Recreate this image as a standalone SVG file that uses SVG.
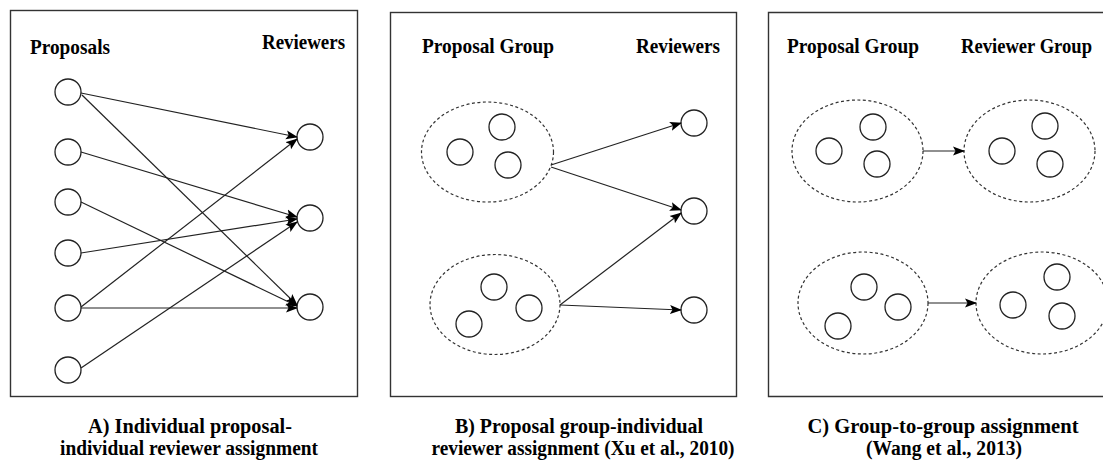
<svg xmlns="http://www.w3.org/2000/svg" width="1103" height="464" viewBox="0 0 1103 464">
<style>
.frame{fill:none;stroke:#333;stroke-width:1.4}
.c{fill:#fff;stroke:#222;stroke-width:1.3}
.g{fill:none;stroke:#333;stroke-width:1.2;stroke-dasharray:3 2.5}
.e{fill:none;stroke:#222;stroke-width:1.2;marker-end:url(#ah)}
.h{font-family:"Liberation Serif","Times New Roman",serif;font-weight:bold;font-size:21px;fill:#000}
.cap{font-family:"Liberation Serif","Times New Roman",serif;font-weight:bold;font-size:20px;fill:#000;text-anchor:middle}
</style>
<defs>
<marker id="ah" markerWidth="12" markerHeight="10" refX="11" refY="5" orient="auto" markerUnits="userSpaceOnUse">
<path d="M0,0.5 L12,5 L0,9.5 L2.5,5 Z" fill="#000"/>
</marker>
</defs>
<rect width="1103" height="464" fill="#fff"/>

<g id="panelA">
<rect class="frame" x="10.5" y="10.5" width="347" height="386"/>
<text class="h" x="30" y="54" textLength="80" lengthAdjust="spacingAndGlyphs">Proposals</text>
<text class="h" x="262" y="49" textLength="83" lengthAdjust="spacingAndGlyphs">Reviewers</text>
</g>
<g id="A-p1"><circle class="c" cx="68" cy="92" r="13"/></g>
<g id="A-p2"><circle class="c" cx="68" cy="152" r="13"/></g>
<g id="A-p3"><circle class="c" cx="68" cy="202" r="13"/></g>
<g id="A-p4"><circle class="c" cx="68" cy="253" r="13"/></g>
<g id="A-p5"><circle class="c" cx="68" cy="308" r="13"/></g>
<g id="A-p6"><circle class="c" cx="68" cy="370" r="13"/></g>
<g id="A-r1"><circle class="c" cx="310" cy="137" r="13"/></g>
<g id="A-r2"><circle class="c" cx="310" cy="218" r="13"/></g>
<g id="A-r3"><circle class="c" cx="310" cy="307" r="13"/></g>

<g id="panelB">
<rect class="frame" x="390.5" y="12.5" width="346" height="384"/>
<text class="h" x="422" y="53" textLength="132" lengthAdjust="spacingAndGlyphs">Proposal Group</text>
<text class="h" x="636" y="53" textLength="84" lengthAdjust="spacingAndGlyphs">Reviewers</text>
</g>
<g id="B-g1">
<ellipse class="g" cx="487.5" cy="152" rx="66" ry="50"/>
<circle class="c" cx="460" cy="152" r="13"/>
<circle class="c" cx="502" cy="127" r="13"/>
<circle class="c" cx="508" cy="165" r="13"/>
</g>
<g id="B-g2">
<ellipse class="g" cx="495" cy="304.5" rx="65" ry="50"/>
<circle class="c" cx="469" cy="324" r="13"/>
<circle class="c" cx="494" cy="287" r="13"/>
<circle class="c" cx="529" cy="308" r="13"/>
</g>
<g id="B-r1"><circle class="c" cx="694" cy="123" r="13"/></g>
<g id="B-r2"><circle class="c" cx="694" cy="211" r="13"/></g>
<g id="B-r3"><circle class="c" cx="694" cy="310" r="13"/></g>

<g id="panelC">
<path class="frame" d="M1103,12.5 H768.5 V396.5 H1103"/>
<text class="h" x="961" y="53" font-size="19.5" textLength="131" lengthAdjust="spacingAndGlyphs">Reviewer Group</text>
<text class="h" x="787" y="53" textLength="132" lengthAdjust="spacingAndGlyphs">Proposal Group</text>
</g>
<g id="C-pg1">
<ellipse class="g" cx="857.5" cy="151" rx="65.5" ry="51"/>
<circle class="c" cx="829" cy="151" r="13"/>
<circle class="c" cx="873" cy="127" r="13"/>
<circle class="c" cx="877" cy="164" r="13"/>
</g>
<g id="C-rg1">
<ellipse class="g" cx="1029.5" cy="151" rx="65.5" ry="51"/>
<circle class="c" cx="1002" cy="151" r="13"/>
<circle class="c" cx="1045" cy="126" r="13"/>
<circle class="c" cx="1050" cy="164" r="13"/>
</g>
<g id="C-pg2">
<ellipse class="g" cx="863" cy="303" rx="65" ry="51"/>
<circle class="c" cx="838" cy="326" r="13"/>
<circle class="c" cx="864" cy="287" r="13"/>
<circle class="c" cx="898" cy="307" r="13"/>
</g>
<g id="C-rg2">
<ellipse class="g" cx="1042" cy="303" rx="66" ry="51"/>
<circle class="c" cx="1013" cy="305" r="13"/>
<circle class="c" cx="1057" cy="277" r="13"/>
<circle class="c" cx="1062" cy="316" r="13"/>
</g>

<g id="connectors">
<line class="e" x1="81" y1="93" x2="297" y2="137"/>
<line class="e" x1="82" y1="95" x2="297" y2="305"/>
<line class="e" x1="81" y1="152" x2="297" y2="217"/>
<line class="e" x1="81" y1="202" x2="297" y2="306"/>
<line class="e" x1="81" y1="253" x2="297" y2="219"/>
<line class="e" x1="81" y1="307" x2="297" y2="139"/>
<line class="e" x1="81" y1="308" x2="297" y2="308"/>
<line class="e" x1="81" y1="368" x2="297" y2="222"/>
<line class="e" x1="551" y1="165" x2="681" y2="123"/>
<line class="e" x1="551" y1="167" x2="681" y2="210"/>
<line class="e" x1="560" y1="305" x2="681" y2="213"/>
<line class="e" x1="560" y1="305" x2="681" y2="310"/>
<line class="e" x1="923" y1="151" x2="964" y2="151"/>
<line class="e" x1="928" y1="303" x2="976" y2="303"/>
</g>

<g id="captions">
<text class="cap" x="190" y="433" textLength="204" lengthAdjust="spacingAndGlyphs">A) Individual proposal-</text>
<text class="cap" x="189" y="455" textLength="258" lengthAdjust="spacingAndGlyphs">individual reviewer assignment</text>
<text class="cap" x="579" y="433" textLength="248" lengthAdjust="spacingAndGlyphs">B) Proposal group-individual</text>
<text class="cap" x="583" y="455" textLength="303" lengthAdjust="spacingAndGlyphs">reviewer assignment (Xu et al., 2010)</text>
<text class="cap" x="943" y="433" textLength="271" lengthAdjust="spacingAndGlyphs">C) Group-to-group assignment</text>
<text class="cap" x="944" y="455" textLength="156" lengthAdjust="spacingAndGlyphs">(Wang et al., 2013)</text>
</g>
</svg>
